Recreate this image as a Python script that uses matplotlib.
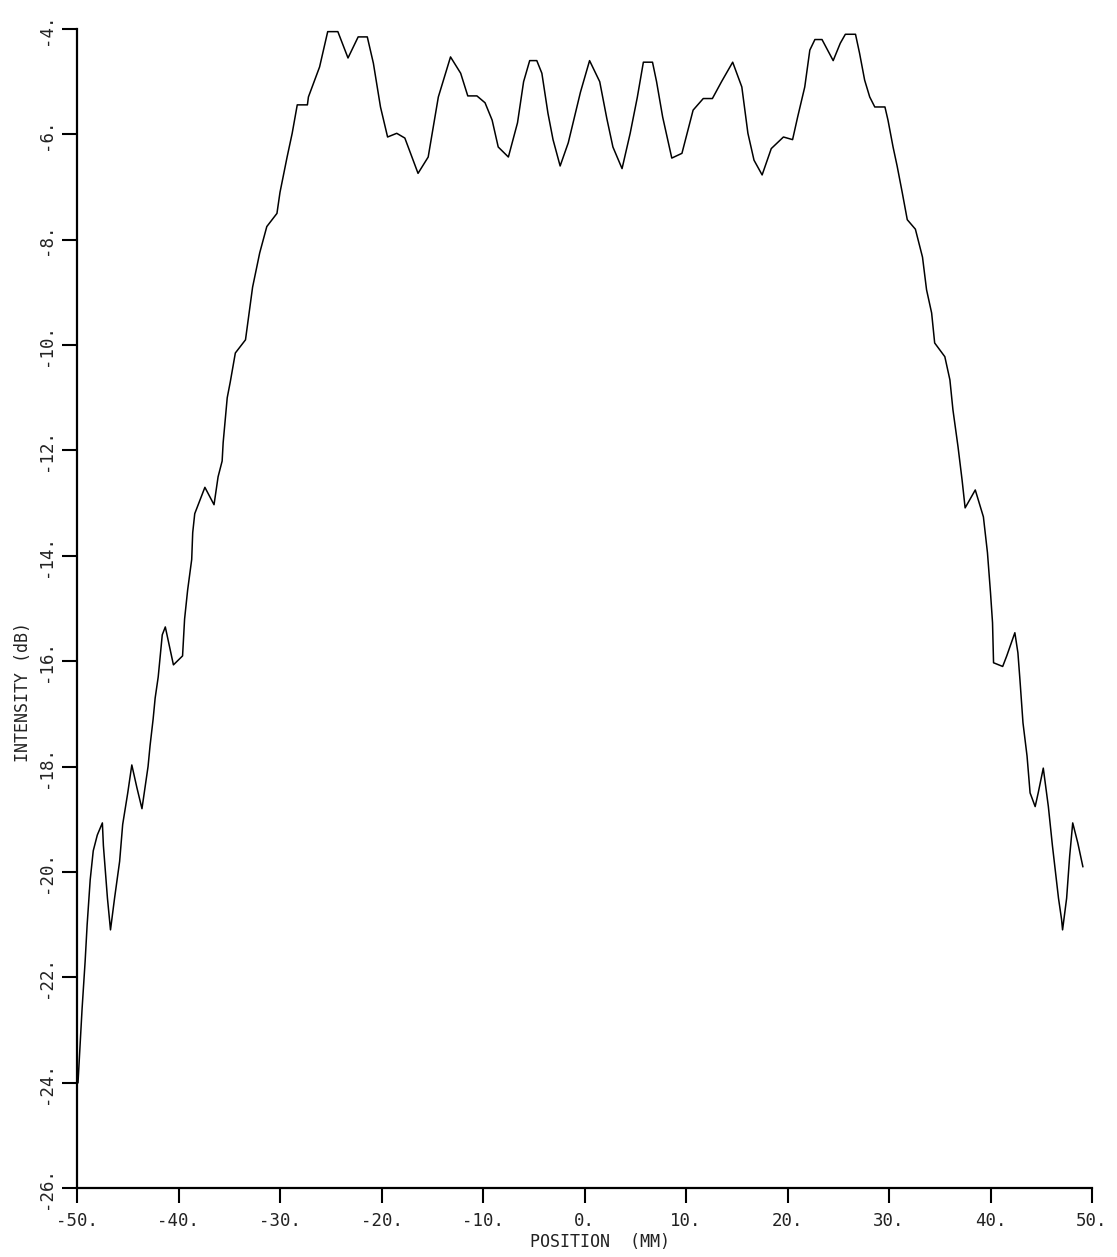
import matplotlib
matplotlib.use("Agg")
import matplotlib.pyplot as plt

# Position (mm) and intensity (dB)
position_mm = [
    -49.9, -49.7, -49.5, -49.2, -49.0, -48.7, -48.4, -48.0, -47.5, -47.4,
    -47.0, -46.7, -46.3, -45.8, -45.5, -45.0, -44.6, -44.1, -43.6, -43.0,
    -42.8, -42.5, -42.3, -42.0, -41.8, -41.6, -41.3, -40.5, -39.6, -39.4,
    -39.1, -38.7, -38.6, -38.4, -37.4, -36.5, -36.1, -35.7, -35.6, -35.2,
    -34.9, -34.4, -33.4, -32.7, -32.0, -31.3, -30.3, -30.0, -29.3, -28.8,
    -28.3, -27.3, -27.2, -26.1, -25.3, -24.3, -23.3, -22.3, -21.4, -20.8,
    -20.1, -19.4, -18.5, -17.7, -16.4, -15.4, -14.4, -13.2, -12.2, -11.5,
    -10.6, -9.8, -9.1, -8.5, -7.5, -6.6, -6.0, -5.4, -4.7, -4.2,
    -3.6, -3.1, -2.4, -1.6, -0.4, 0.5, 1.5, 2.2, 2.8, 3.7,
    4.5, 5.2, 5.8, 6.7, 7.1, 7.7, 8.6, 9.6, 10.7, 11.7,
    12.6, 13.5, 14.6, 15.5, 16.1, 16.7, 17.5, 18.4, 19.6, 20.5,
    21.0, 21.7, 22.2, 22.7, 23.4, 24.5, 25.2, 25.7, 26.7, 27.1,
    27.6, 28.1, 28.6, 29.6, 29.9, 30.4, 30.8, 31.3, 31.8, 32.6,
    33.3, 33.7, 34.2, 34.5, 35.5, 36.0, 36.3, 36.8, 37.2, 37.5,
    38.5, 39.3, 39.7, 40.0, 40.2, 40.3, 41.2, 41.6, 42.4, 42.7,
    42.9, 43.2, 43.6, 43.9, 44.4, 44.7, 45.2, 45.7, 46.1, 46.4,
    46.7, 47.0, 47.1, 47.5, 47.8, 48.1, 48.6, 49.1,
]
intensity_db = [
    -24.0, -23.3, -22.6, -21.7, -21.0, -20.15, -19.6, -19.3, -19.07, -19.5,
    -20.5, -21.1, -20.5, -19.8, -19.1, -18.5, -17.97, -18.4, -18.8, -18.0,
    -17.6, -17.1, -16.7, -16.3, -15.9, -15.5, -15.35, -16.07, -15.9, -15.2,
    -14.65, -14.07, -13.56, -13.2, -12.7, -13.03, -12.5, -12.2, -11.85, -11.0,
    -10.7, -10.15, -9.9, -8.9, -8.25, -7.75, -7.5, -7.1, -6.43, -5.98,
    -5.44, -5.44, -5.29, -4.72, -4.05, -4.05, -4.55, -4.15, -4.15, -4.65,
    -5.48, -6.05, -5.98, -6.07, -6.74, -6.43, -5.29, -4.53, -4.84, -5.27,
    -5.27, -5.4, -5.73, -6.24, -6.43, -5.78, -5.0, -4.6, -4.6, -4.84,
    -5.6, -6.1, -6.6, -6.16, -5.2, -4.6, -5.0, -5.7, -6.24, -6.65,
    -5.98, -5.3, -4.63, -4.63, -5.0, -5.67, -6.45, -6.36, -5.54, -5.32,
    -5.32, -5.0, -4.63, -5.1, -5.98, -6.49, -6.77, -6.27, -6.05, -6.1,
    -5.67, -5.1, -4.4, -4.2, -4.2, -4.6, -4.27, -4.1, -4.1, -4.46,
    -4.97, -5.29, -5.48, -5.48, -5.73, -6.24, -6.6, -7.1, -7.62, -7.8,
    -8.33, -8.95, -9.39, -9.96, -10.22, -10.66, -11.23, -11.93, -12.56, -13.09,
    -12.75, -13.26, -13.94, -14.7, -15.27, -16.03, -16.1, -15.9, -15.46, -15.84,
    -16.35, -17.17, -17.8, -18.5, -18.76, -18.5, -18.03, -18.76, -19.5, -20.0,
    -20.5, -20.9, -21.1, -20.5, -19.7, -19.07, -19.45, -19.9,
]

x_ticks = [-50, -40, -30, -20, -10, 0, 10, 20, 30, 40, 50]
x_tick_labels = ["-50.", "-40.", "-30.", "-20.", "-10.", "0.", "10.", "20.", "30.", "40.", "50."]
y_ticks = [-4, -6, -8, -10, -12, -14, -16, -18, -20, -22, -24, -26]
y_tick_labels = ["-4.", "-6.", "-8.", "-10.", "-12.", "-14.", "-16.", "-18.", "-20.", "-22.", "-24.", "-26."]

W, H = 1117, 1257
fig = plt.figure(figsize=(W / 100, H / 100), dpi=100)
ax = fig.add_axes([77 / W, 1 - 1188 / H, (1092 - 77) / W, (1188 - 29) / H])

font = "DejaVu Sans Mono"
ax.plot(position_mm, intensity_db, color="black", lw=1.1, clip_on=False)

ax.set_xlim(-50, 50)
ax.set_ylim(-26, -4)
ax.spines["top"].set_visible(False)
ax.spines["right"].set_visible(False)
for s in ("left", "bottom"):
    ax.spines[s].set_linewidth(1.6)
    ax.spines[s].set_color("black")

ax.set_xticks(x_ticks)
ax.set_xticklabels(x_tick_labels, family=font, fontsize=12.5, color="#222222")
ax.set_yticks(y_ticks)
ax.set_yticklabels(y_tick_labels, family=font, fontsize=12.5, color="#222222",
                   rotation=90, va="center")
ax.tick_params(axis="both", direction="out", length=11, width=1.5, color="black")
ax.tick_params(axis="x", pad=6)
ax.tick_params(axis="y", pad=5)

ax.set_xlabel("POSITION  (MM)", family=font, fontsize=12, color="#222222")
ax.xaxis.set_label_coords(0.515, -0.047)
ax.xaxis.label.set_va("center")
ax.set_ylabel("INTENSITY (dB)", family=font, fontsize=12, color="#222222")
ax.yaxis.set_label_coords(-0.053, 0.428)
ax.yaxis.label.set_va("center")

fig.savefig("out.png", dpi=100)
